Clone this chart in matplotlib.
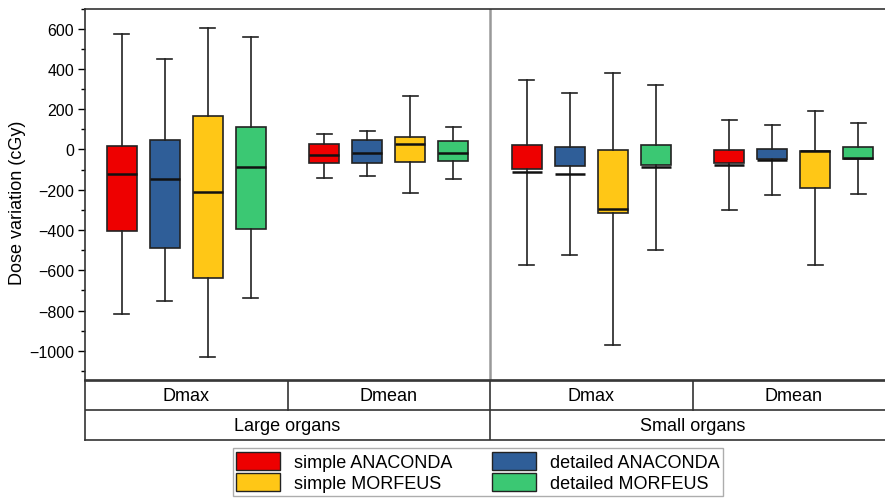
import matplotlib
matplotlib.use("Agg")
import matplotlib.pyplot as plt
from matplotlib.patches import Patch
from matplotlib.ticker import MultipleLocator

plt.rcParams["font.family"] = ["Liberation Sans", "DejaVu Sans"]

# box statistics: one list per series, 4 groups each
# groups: Large Dmax, Large Dmean, Small Dmax, Small Dmean
series = ["simple ANACONDA", "detailed ANACONDA", "simple MORFEUS", "detailed MORFEUS"]
colors = ["#EE0000", "#2F5E98", "#FFC716", "#3BC873"]

whislo = [[-819, -141, -573, -303],
          [-753, -133, -526, -227],
          [-1032, -218, -971, -574],
          [-740, -147, -498, -222]]
q1 = [[-407, -69, -98, -65],
      [-491, -66, -81, -48],
      [-637, -63, -318, -191],
      [-397, -57, -76, -45]]
med = [[-123, -30, -111, -78],
       [-149, -18, -123, -53],
       [-212, 25, -296, -7],
       [-89, -18, -89, -40]]
q3 = [[18, 25, 20, -2],
      [46, 46, 11, 1],
      [164, 61, -3, -7],
      [112, 41, 20, 11]]
whishi = [[574, 79, 344, 145],
          [450, 92, 281, 119],
          [602, 263, 380, 190],
          [557, 111, 318, 129]]

sub_labels = ["Dmax", "Dmean", "Dmax", "Dmean"]
group_labels = ["Large organs", "Small organs"]

fig = plt.figure(figsize=(8.85, 5.02), dpi=100)
ax = fig.add_axes([85 / 885, 121 / 502, 810 / 885, 371.5 / 502])

offsets = [-0.318, -0.106, 0.106, 0.318]
width = 0.148
for s in range(4):
    stats = []
    for g in range(4):
        stats.append(dict(whislo=whislo[s][g], q1=q1[s][g], med=med[s][g],
                          q3=q3[s][g], whishi=whishi[s][g], fliers=[]))
    pos = [g + 0.5 + offsets[s] for g in range(4)]
    ax.bxp(stats, positions=pos, widths=width, patch_artist=True,
           showfliers=False, manage_ticks=False,
           boxprops=dict(facecolor=colors[s], edgecolor="#222222", linewidth=1.2),
           medianprops=dict(color="#111111", linewidth=1.8),
           whiskerprops=dict(color="#222222", linewidth=1.2),
           capprops=dict(color="#222222", linewidth=1.2))

ax.axvline(2, color="#999999", linewidth=1.8)
ax.set_xlim(0, 4)
ax.set_xticks([])
ax.yaxis.set_minor_locator(MultipleLocator(100))
ax.tick_params(axis="y", which="major", length=5, width=1, labelsize=11.5, pad=3)
ax.tick_params(axis="y", which="minor", length=3, width=1)
ax.set_yticks(range(-1000, 601, 200))
ax.set_yticklabels([str(v).replace("-", "\u2212") for v in range(-1000, 601, 200)])
ax.set_ylim(-1145, 700)
ax.set_ylabel("Dose variation (cGy)", fontsize=13)
ax.yaxis.set_label_coords(-0.073, 0.479)
for sp in ax.spines.values():
    sp.set_color("#333333")
    sp.set_linewidth(1.2)

# category table under the plot
tab = fig.add_axes([85 / 885, 61 / 502, 810 / 885, 59.5 / 502])
tab.set_xlim(0, 4)
tab.set_ylim(0, 2)
tab.set_xticks([])
tab.set_yticks([])
for sp in tab.spines.values():
    sp.set_color("#333333")
    sp.set_linewidth(1.2)
tab.axhline(1, color="#333333", linewidth=1.2)
for x in [1, 3]:
    tab.plot([x, x], [1, 2], color="#333333", linewidth=1.2)
tab.plot([2, 2], [0, 2], color="#333333", linewidth=1.2)
for i, lab in enumerate(sub_labels):
    tab.text(i + 0.5, 1.5, lab, ha="center", va="center", fontsize=13)
for i, lab in enumerate(group_labels):
    tab.text(2 * i + 1, 0.5, lab, ha="center", va="center", fontsize=13)

order = [0, 2, 1, 3]
handles = [Patch(facecolor=colors[i], edgecolor="#222222", linewidth=1.0) for i in order]
labels = [series[i] for i in order]
fig.legend(handles, labels, ncol=2, loc="upper center", bbox_to_anchor=(478 / 885, 1 - 449 / 502),
           fontsize=13, frameon=True, fancybox=False, edgecolor="#999999",
           handlelength=2.4, handleheight=1.15, handletextpad=0.8, columnspacing=2.2,
           labelspacing=0.15, borderpad=0.2, borderaxespad=0)

fig.savefig("out.png", dpi=100)
